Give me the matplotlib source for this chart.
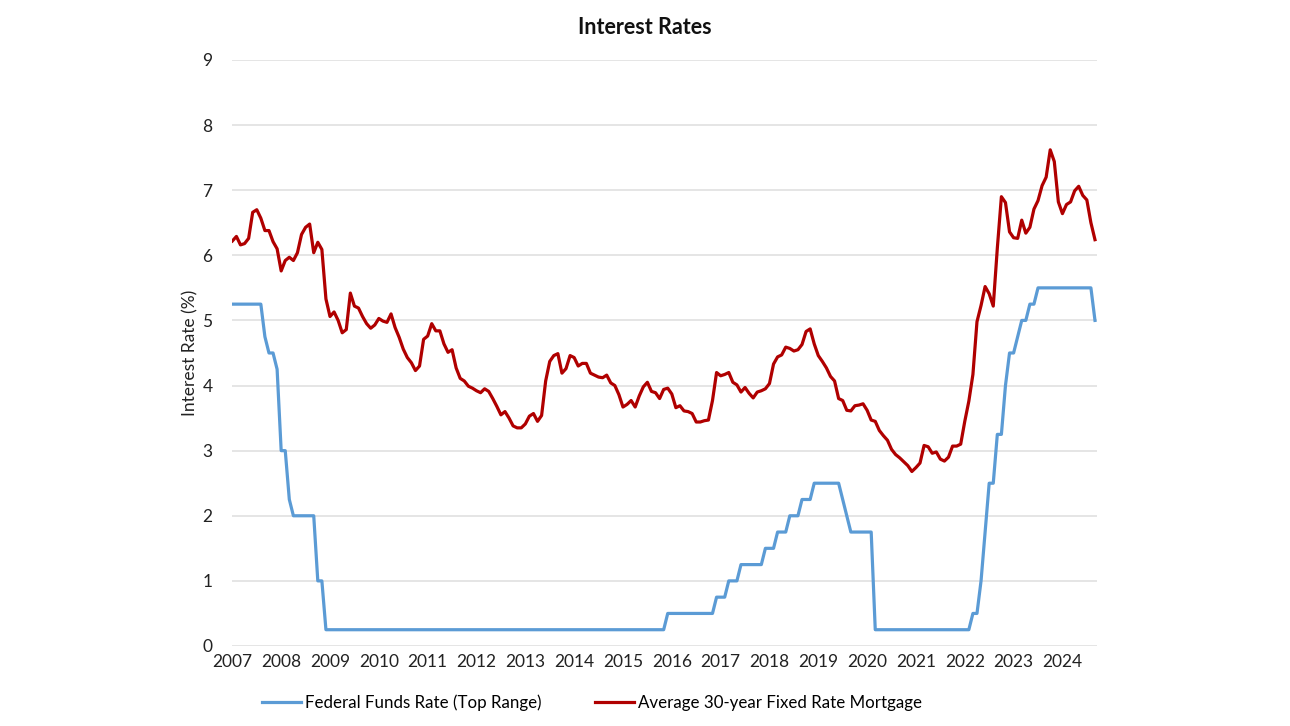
import matplotlib
matplotlib.use('Agg')
import matplotlib.pyplot as plt

years = list(range(2007, 2025))

# Fed funds target, upper bound, monthly Jan 2007 - Sep 2024
fed_funds = (
    [5.25] * 8 + [4.75, 4.5, 4.5, 4.25]                                  # 2007
    + [3.0, 3.0, 2.25, 2.0, 2.0, 2.0, 2.0, 2.0, 2.0, 1.0, 1.0, 0.25]     # 2008
    + [0.25] * 12 * 6                                                    # 2009-2014
    + [0.25] * 11 + [0.5]                                                # 2015
    + [0.5] * 11 + [0.75]                                                # 2016
    + [0.75, 0.75, 1.0, 1.0, 1.0, 1.25, 1.25, 1.25, 1.25, 1.25, 1.25, 1.5]  # 2017
    + [1.5, 1.5, 1.75, 1.75, 1.75, 2.0, 2.0, 2.0, 2.25, 2.25, 2.25, 2.5]    # 2018
    + [2.5, 2.5, 2.5, 2.5, 2.5, 2.5, 2.25, 2.0, 1.75, 1.75, 1.75, 1.75]     # 2019
    + [1.75, 1.75, 0.25] + [0.25] * 9                                    # 2020
    + [0.25] * 12                                                        # 2021
    + [0.25, 0.25, 0.5, 0.5, 1.0, 1.75, 2.5, 2.5, 3.25, 3.25, 4.0, 4.5]  # 2022
    + [4.5, 4.75, 5.0, 5.0, 5.25, 5.25, 5.5, 5.5, 5.5, 5.5, 5.5, 5.5]    # 2023
    + [5.5] * 8 + [5.0]                                                  # 2024
)

# Average 30-year fixed rate mortgage, monthly
mortgage = [
    6.22, 6.29, 6.16, 6.18, 6.26, 6.66, 6.70, 6.57, 6.38, 6.38, 6.21, 6.10,
    5.76, 5.92, 5.97, 5.92, 6.04, 6.32, 6.43, 6.48, 6.04, 6.20, 6.09, 5.33,
    5.06, 5.13, 5.00, 4.81, 4.86, 5.42, 5.22, 5.19, 5.06, 4.95, 4.88, 4.93,
    5.03, 4.99, 4.97, 5.10, 4.89, 4.74, 4.56, 4.43, 4.35, 4.23, 4.30, 4.71,
    4.76, 4.95, 4.84, 4.84, 4.64, 4.51, 4.55, 4.27, 4.11, 4.07, 3.99, 3.96,
    3.92, 3.89, 3.95, 3.91, 3.80, 3.68, 3.55, 3.60, 3.50, 3.38, 3.35, 3.35,
    3.41, 3.53, 3.57, 3.45, 3.54, 4.07, 4.37, 4.46, 4.49, 4.19, 4.26, 4.46,
    4.43, 4.30, 4.34, 4.34, 4.19, 4.16, 4.13, 4.12, 4.16, 4.04, 4.00, 3.86,
    3.67, 3.71, 3.77, 3.67, 3.84, 3.98, 4.05, 3.91, 3.89, 3.80, 3.94, 3.96,
    3.87, 3.66, 3.69, 3.61, 3.60, 3.57, 3.44, 3.44, 3.46, 3.47, 3.77, 4.20,
    4.15, 4.17, 4.20, 4.05, 4.01, 3.90, 3.97, 3.88, 3.81, 3.90, 3.92, 3.95,
    4.03, 4.33, 4.44, 4.47, 4.59, 4.57, 4.53, 4.55, 4.63, 4.83, 4.87, 4.64,
    4.46, 4.37, 4.27, 4.14, 4.07, 3.80, 3.77, 3.62, 3.61, 3.69, 3.70, 3.72,
    3.62, 3.47, 3.45, 3.31, 3.23, 3.16, 3.02, 2.94, 2.89, 2.83, 2.77, 2.68,
    2.74, 2.81, 3.08, 3.06, 2.96, 2.98, 2.87, 2.84, 2.90, 3.07, 3.07, 3.10,
    3.45, 3.76, 4.17, 4.98, 5.23, 5.52, 5.41, 5.22, 6.11, 6.90, 6.81, 6.36,
    6.27, 6.26, 6.54, 6.34, 6.43, 6.71, 6.84, 7.07, 7.20, 7.62, 7.44, 6.82,
    6.64, 6.78, 6.82, 6.99, 7.06, 6.92, 6.85, 6.50, 6.24,
]

plt.rcParams['font.family'] = ['Lato', 'DejaVu Sans']

fig = plt.figure(figsize=(12.9, 7.26), dpi=100, facecolor='white')
ax = fig.add_axes([0.1798, 0.1102, 0.6706, 0.8072])

x = list(range(len(mortgage)))
ax.plot(x, fed_funds, color='#5B9BD5', linewidth=2.3, label='Federal Funds Rate (Top Range)')
ax.plot(x, mortgage, color='#B00000', linewidth=2.3, label='Average 30-year Fixed Rate Mortgage')

ax.set_xlim(-0.1, 212.5)
ax.set_ylim(0, 9)
ax.set_yticks(range(0, 10))
ax.set_xticks([12 * i for i in range(len(years))])
ax.set_xticklabels([str(y) for y in years])
ax.tick_params(axis='both', length=0, labelsize=12.5, colors='#222222')
ax.tick_params(axis='y', pad=14)
ax.tick_params(axis='x', pad=6)

for spine in ax.spines.values():
    spine.set_visible(False)
ax.grid(axis='y', color='#e3e3e3', linewidth=1.3)
ax.set_axisbelow(True)

ax.set_ylabel('Interest Rate (%)', fontsize=12.5, color='#222222', labelpad=3)
fig.text(0.5, 0.962, 'Interest Rates', ha='center', va='center',
         fontsize=15.5, fontweight='bold', color='#111111')

fig.legend(loc='center', bbox_to_anchor=(592 / 1290, 1 - 703 / 726), ncol=2,
           frameon=False, fontsize=12.2, handlelength=2.3, columnspacing=3.2,
           handletextpad=0.2)

fig.savefig('out.png', dpi=100, facecolor='white')
